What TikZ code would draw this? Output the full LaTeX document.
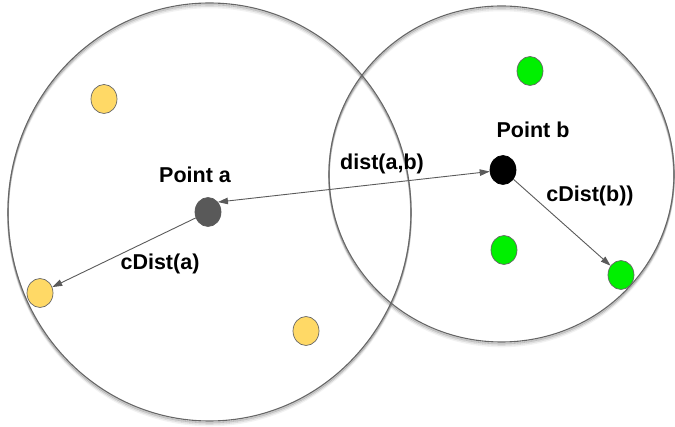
\documentclass[tikz,border=0pt]{standalone}
\usepackage{fontspec}
\setmainfont{Liberation Sans}
\usetikzlibrary{shapes.geometric,arrows.meta}
\definecolor{ringc}{HTML}{666666}
\definecolor{darkdot}{HTML}{595959}
\definecolor{yelfill}{HTML}{FFD966}
\definecolor{grnfill}{HTML}{00F000}
\definecolor{arrc}{HTML}{5A5A5A}
\tikzset{
  ring/.style={draw=ringc, line width=1.1pt},
  ringshadow/.style={draw=black, line width=1.6pt},
  dot/.style={ellipse, draw=ringc, line width=0.7pt, minimum width=26pt, minimum height=29pt, inner sep=0pt},
  ydot/.style={dot, fill=yelfill},
  gdot/.style={dot, fill=grnfill},
  adot/.style={dot, fill=darkdot, draw=darkdot},
  bdot/.style={dot, fill=black, draw=black},
  lbl/.style={anchor=base, inner sep=0pt, font=\fontsize{21.5}{26}\selectfont\bfseries},
  conn/.style={draw=arrc, line width=0.9pt, -{Triangle[length=10pt,width=6.5pt]}},
  biconn/.style={draw=arrc, line width=0.9pt, {Triangle[length=10pt,width=6.5pt]}-{Triangle[length=10pt,width=6.5pt]}}
}
\begin{document}
\begin{tikzpicture}[x=1pt,y=-1pt]
\useasboundingbox (0,0) rectangle (675,427);
% shadows
\foreach \d/\o in {1.5/0.22,3/0.12,4.5/0.05}{
  \draw[ringshadow, opacity=\o] (209.5,212+\d) ellipse [x radius=201.5pt, y radius=209pt];
  \draw[ringshadow, opacity=\o] (501.5,174+\d) ellipse [x radius=172.5pt, y radius=168pt];
}
% circles
\draw[ring] (209.5,212) ellipse [x radius=201.5pt, y radius=209pt];
\draw[ring] (501.5,174) ellipse [x radius=172.5pt, y radius=168pt];
% points
\node[ydot] (y1) at (104,99) {};
\node[ydot] (y2) at (40,293) {};
\node[ydot] (y3) at (306,331) {};
\node[gdot] (g1) at (530,71) {};
\node[gdot] (g2) at (504,250) {};
\node[gdot] (g3) at (621,275) {};
\node[adot] (a) at (208,212) {};
\node[bdot] (b) at (503,170) {};
% connectors
\draw[biconn] (a.45) -- (b);
\draw[conn] (a) -- (y2);
\draw[conn] (b) -- (g3);
% labels
\node[lbl] (la) at (195,183) {Point a};
\node[lbl] (lb) at (533,138) {Point b};
\node[lbl] (ld) at (382,170) {dist(a,b)};
\node[lbl] (lca) at (160,270) {cDist(a)};
\node[lbl] (lcb) at (590,202) {cDist(b))};
\end{tikzpicture}
\end{document}
